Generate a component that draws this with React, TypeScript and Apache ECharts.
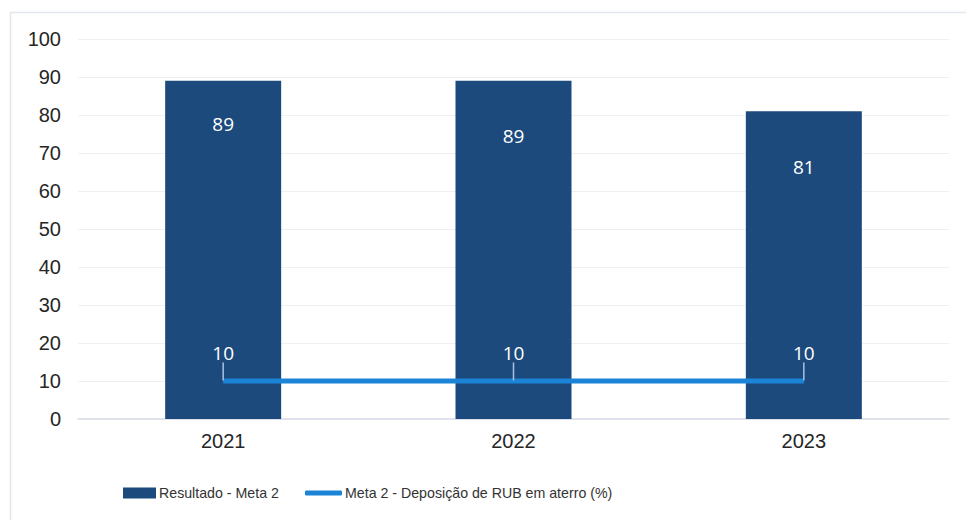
import React, { useEffect, useRef } from "react";
import * as echarts from "echarts";

const categories = ["2021", "2022", "2023"];
const resultValues = [89, 89, 81];
const targetValues = [10, 10, 10];
const yTicks = { min: 0, max: 100, interval: 10 };
const seriesNames = ["Resultado - Meta 2", "Meta 2 - Deposição de RUB em aterro (%)"];

export default function App() {
  const ref = useRef<HTMLDivElement>(null);
  useEffect(() => {
    if (!ref.current) return;
    const chart = echarts.init(ref.current, null, { renderer: "svg" });
    const legendText = {
      fontSize: 14.2,
      color: "#333333",
      fontFamily: "Liberation Sans, Arial, sans-serif",
      padding: [0, 0, 0, -2],
    };
    chart.setOption({
      animation: false,
      backgroundColor: "#ffffff",
      textStyle: { fontFamily: "Liberation Sans, Arial, sans-serif" },
      graphic: [
        {
          type: "rect",
          shape: { x: 10.5, y: 12.5, width: 1000, height: 1000 },
          style: { fill: "none", stroke: "#e4e6ee", lineWidth: 1.5 },
          silent: true,
        },
      ],
      grid: { left: 78, right: 17, top: 39, bottom: 101, containLabel: false },
      legend: [
        {
          left: 123,
          top: 486,
          padding: 0,
          itemWidth: 33,
          itemHeight: 11,
          textStyle: legendText,
          data: [{ name: seriesNames[0], icon: "rect" }],
        },
        {
          left: 305,
          top: 486,
          padding: 0,
          itemWidth: 37,
          itemHeight: 5,
          textStyle: legendText,
          data: [{ name: seriesNames[1], icon: "roundRect", itemStyle: { color: "#1b84d6" } }],
        },
      ],
      xAxis: {
        type: "category",
        data: categories,
        axisTick: { show: false },
        axisLine: { lineStyle: { color: "#d8dbe8", width: 1.5 } },
        axisLabel: { fontSize: 20, color: "#262626", margin: 12 },
      },
      yAxis: {
        type: "value",
        min: yTicks.min,
        max: yTicks.max,
        interval: yTicks.interval,
        axisLine: { show: false },
        axisTick: { show: false },
        splitLine: { lineStyle: { color: "#f0f0f3", width: 1 } },
        axisLabel: { fontSize: 20, color: "#262626", margin: 17 },
      },
      series: [
        {
          name: seriesNames[0],
          type: "bar",
          barWidth: 116,
          itemStyle: { color: "#1c4a7c" },
          label: {
            show: true,
            position: "insideTop",
            distance: 46,
            color: "#ffffff",
            fontSize: 19,
            fontFamily: "Open Sans, sans-serif",
          },
          data: resultValues.map((v, i) =>
            i === 0 ? { value: v, label: { distance: 34 } } : v
          ),
        },
        {
          name: seriesNames[1],
          type: "line",
          symbol: "circle",
          symbolSize: 1,
          lineStyle: { color: "#1b84d6", width: 5 },
          itemStyle: { color: "#1b84d6" },
          label: {
            show: true,
            position: "top",
            distance: 6,
            color: "#ffffff",
            fontSize: 19,
            fontFamily: "Open Sans, sans-serif",
          },
          labelLayout: { dy: -12 },
          labelLine: { show: true, lineStyle: { color: "#a8c4e4", width: 1.5 } },
          data: targetValues,
        },
      ],
    });
    return () => chart.dispose();
  }, []);
  return (
    <div
      ref={ref}
      style={{ position: "fixed", left: 0, top: 0, width: 966, height: 520 }}
    />
  );
}
